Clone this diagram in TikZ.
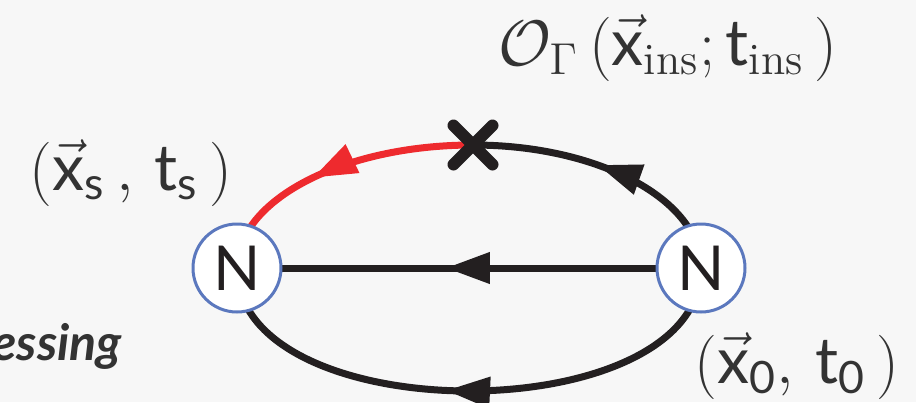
\documentclass[tikz,border=0pt]{standalone}
\usepackage{fontspec}
\setsansfont{Lato}
\newfontfamily\latofont{Lato}
\usetikzlibrary{arrows.meta,decorations.markings,backgrounds,shapes.misc}
\definecolor{BgGray}{HTML}{F7F7F7}
\definecolor{LineBlack}{HTML}{231F20}
\definecolor{LoopRed}{HTML}{EE2A2E}
\definecolor{RingBlue}{HTML}{5B78BE}
\definecolor{TextGray}{HTML}{333333}
\tikzset{
    nucleon/.style={circle, draw=RingBlue, line width=3pt, fill=white, minimum size=88pt, inner sep=0pt,
        font=\latofont\fontsize{62}{70}\selectfont, text=LineBlack},
    prop/.style={line width=7pt, draw=LineBlack},
    midarrow/.style={postaction={decorate}, decoration={markings,
        mark=at position #1 with {\arrow{Triangle[length=44pt,width=30pt]}}}},
    crossmark/.style={cross out, draw=LineBlack, line width=12pt, line cap=round, minimum size=27pt, inner sep=0pt},
    mathlabel/.style={font=\huge, scale=3.1, text=TextGray, inner sep=0pt, anchor=base},
}
\begin{document}
\begin{tikzpicture}[x=1pt, y=-1pt]

    \useasboundingbox (0,0) rectangle (916,402);

    % vertices
    \node[nucleon] (nl) at (237,268) {N};
    \node[nucleon] (nr) at (701,268) {N};
    \node[crossmark] (ins) at (473,145) {};

    % propagators
    \begin{scope}[on background layer]
        \fill[BgGray] (0,0) rectangle (916,402);
        \draw[prop, draw=LoopRed, color=LoopRed, midarrow=0.57] (ins.center) .. controls +(-130,0) and +(0,-68) .. (nl.center);
        \draw[prop, color=LineBlack, midarrow=0.55] (nr.center) .. controls +(0,-68) and +(126,0) .. (ins.center);
        \draw[prop, color=LineBlack, midarrow=0.54] (nr.center) .. controls +(0,164) and +(0,164) .. (nl.center);
        \draw[prop, color=LineBlack, midarrow=0.55] (nr.center) -- (nl.center);
    \end{scope}

    % labels
    \node[mathlabel] (opl) at (668,65) {$\mathcal{O}_{\Gamma}\,(\vec{\mathsf{x}}_{\mathrm{ins}};\mathsf{t}_{\mathrm{ins}}\,)$};
    \node[mathlabel] (srcl) at (131,190) {$(\vec{\mathsf{x}}_{\mathsf{s}}\,,\,\mathsf{t}_{\mathsf{s}}\,)$};
    \node[mathlabel] (snkl) at (797,383) {$(\vec{\mathsf{x}}_{\mathsf{0}},\,\mathsf{t}_{\mathsf{0}}\,)$};
    \node[anchor=base east, inner sep=0pt, text=TextGray, font=\latofont\bfseries\itshape\fontsize{50}{54}\selectfont] (cut) at (122,360) {essing};
\end{tikzpicture}
\end{document}
